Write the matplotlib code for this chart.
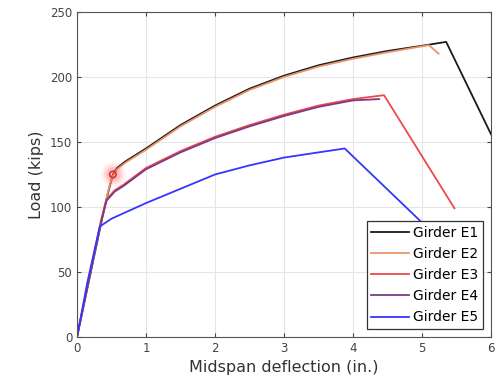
import matplotlib
matplotlib.use("Agg")
import matplotlib.pyplot as plt

e1_x = [0, 0.2, 0.4, 0.47, 0.52, 0.58, 0.7, 1.0, 1.5, 2.0, 2.5, 3.0, 3.5, 4.0, 4.5, 5.0, 5.35, 6.0]
e1_y = [0, 50, 100, 115, 125, 130, 135, 145, 163, 178, 191, 201, 209, 215, 220, 224, 227, 156]
e2_x = [0, 0.2, 0.4, 0.47, 0.52, 0.58, 0.7, 1.0, 1.5, 2.0, 2.5, 3.0, 3.5, 4.0, 4.5, 5.1, 5.24]
e2_y = [0, 51, 101, 116, 124, 129, 134, 144, 162, 177, 190, 200, 208, 214, 219, 224.5, 218]
e3_x = [0, 0.2, 0.35, 0.43, 0.55, 0.67, 1.0, 1.5, 2.0, 2.5, 3.0, 3.5, 4.0, 4.45, 5.47]
e3_y = [0, 52, 90, 106, 113, 117, 130, 143, 154, 163, 171, 178, 183, 186, 99]
e4_x = [0, 0.2, 0.35, 0.43, 0.55, 0.67, 1.0, 1.5, 2.0, 2.5, 3.0, 3.5, 4.0, 4.38]
e4_y = [0, 51, 89, 105, 112, 116, 129, 142, 153, 162, 170, 177, 182, 183]
e5_x = [0, 0.15, 0.33, 0.5, 1.0, 1.5, 2.0, 2.5, 3.0, 3.5, 3.88, 5.0, 5.7]
e5_y = [0, 42, 85, 91, 103, 114, 125, 132, 138, 142, 145, 88, 55]
labels = ["Girder E1", "Girder E2", "Girder E3", "Girder E4", "Girder E5"]
colors = ["#1a1a1a", "#e8956a", "#f04848", "#7a3a8a", "#3535ff"]
marker_pt = (0.52, 125)

fig = plt.figure(figsize=(5, 3.84), dpi=100)
ax = fig.add_axes([0.154, 0.1224, 0.828, 0.8464])

series = [(e1_x, e1_y), (e2_x, e2_y), (e3_x, e3_y), (e4_x, e4_y), (e5_x, e5_y)]
for (x, y), lab, c in zip(series, labels, colors):
    ax.plot(x, y, color=c, lw=1.3, label=lab)

# highlighted point with glow
for s, a in [(320, 0.08), (200, 0.12), (110, 0.2)]:
    ax.scatter([marker_pt[0]], [marker_pt[1]], s=s, color="#ff5050", alpha=a, lw=0, zorder=5)
ax.scatter([marker_pt[0]], [marker_pt[1]], s=22, facecolor="none", edgecolor="#e03030", lw=1.2, zorder=6)

ax.set_xlim(0, 6)
ax.set_ylim(0, 250)
ax.set_xticks(range(0, 7))
ax.set_yticks(range(0, 251, 50))
ax.grid(True, color="#e6e6e6", lw=0.8)
ax.set_axisbelow(True)
ax.tick_params(direction="in", top=True, right=True, labelsize=8.5, colors="#444444", length=3)
for sp in ax.spines.values():
    sp.set_color("#555555")
    sp.set_linewidth(0.8)
ax.set_xlabel("Midspan deflection (in.)", fontsize=11.5, color="#333333")
ax.set_ylabel("Load (kips)", fontsize=11.5, color="#333333")

leg = ax.legend(loc="lower right", fontsize=10, frameon=True, fancybox=False,
                edgecolor="#333333", framealpha=1, handlelength=2.75,
                borderpad=0.32, labelspacing=0.52, handletextpad=0.3,
                borderaxespad=0, bbox_to_anchor=(0.981, 0.025))
leg.get_frame().set_linewidth(0.9)

fig.savefig("out.png", dpi=100)
